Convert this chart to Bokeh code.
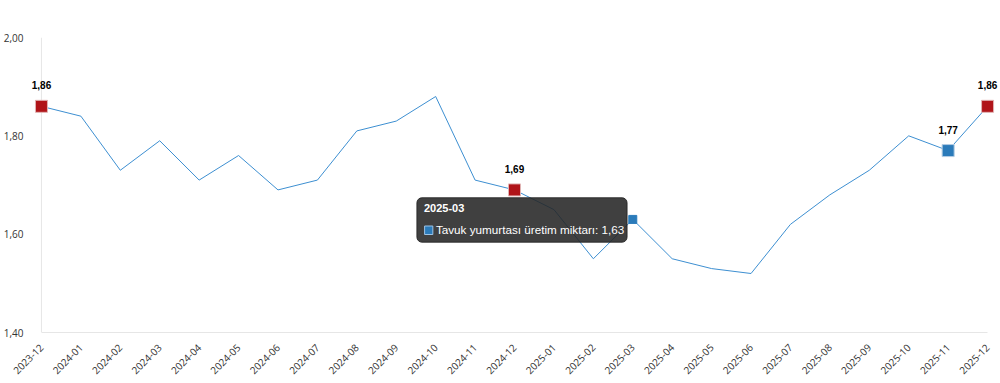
import math
from bokeh.plotting import figure
from bokeh.models import FixedTicker, BoxAnnotation, Label, Span
from bokeh.core.properties import value
from bokeh.embed import file_html
from bokeh.resources import INLINE

months = ["2023-12", "2024-01", "2024-02", "2024-03", "2024-04", "2024-05", "2024-06",
          "2024-07", "2024-08", "2024-09", "2024-10", "2024-11", "2024-12", "2025-01",
          "2025-02", "2025-03", "2025-04", "2025-05", "2025-06", "2025-07", "2025-08",
          "2025-09", "2025-10", "2025-11", "2025-12"]
values = [1.86, 1.84, 1.73, 1.79, 1.71, 1.76, 1.69, 1.71, 1.81, 1.83, 1.88, 1.71, 1.69,
          1.65, 1.55, 1.63, 1.55, 1.53, 1.52, 1.62, 1.68, 1.73, 1.80, 1.77, 1.86]
red_points = ["2023-12", "2024-12", "2025-12"]
blue_points = ["2025-11"]
hover_point = "2025-03"
y_ticks = [1.40, 1.60, 1.80, 2.00]
series_name = "Tavuk yumurtası üretim miktarı"

LINE = "#3d8fd1"
RED = "#b01419"
BLUE = "#2b7bba"
AXIS = "#e6e6e6"

def fmt(v):
    return f"{v:.2f}".replace(".", ",")

xs = list(range(len(months)))
n = len(months) - 1
p = figure(width=1000, height=383, output_backend="svg", toolbar_location=None,
           x_range=(-0.278, n + 0.328), y_range=(1.40, 2.00),
           min_border_left=26, min_border_right=0, min_border_top=37, min_border_bottom=51)
p.outline_line_color = None
p.xgrid.visible = False
p.ygrid.visible = False

p.line(xs, values, line_color=LINE, line_width=1)

def idx(m):
    return months.index(m)

rx = [idx(m) for m in red_points]
p.scatter(rx, [values[i] for i in rx], marker="square", size=12, fill_color=RED,
          line_color="#e0b3b3", line_width=1)
bx = [idx(m) for m in blue_points]
p.scatter(bx, [values[i] for i in bx], marker="square", size=12, fill_color=BLUE,
          line_color="#b3cde3", line_width=1)
hx = idx(hover_point)
p.scatter([hx], [values[hx]], marker="square", size=8, fill_color=BLUE, line_color=BLUE)

# data labels
for i in rx + bx:
    p.add_layout(Label(x=i, y=values[i], y_offset=17, text=fmt(values[i]),
                       text_align="center", text_baseline="bottom",
                       text_font="Liberation Sans", text_font_style="bold",
                       text_font_size="10px", text_color="#000000", level="overlay"))

for ax in (p.xaxis[0], p.yaxis[0]):
    ax.major_tick_line_color = None
    ax.minor_tick_line_color = None
    ax.major_label_text_font = "Open Sans"
    ax.major_label_text_font_size = "10px"
    ax.major_label_text_color = "#333333"

p.yaxis.axis_line_color = None
p.yaxis.ticker = FixedTicker(ticks=y_ticks)
p.yaxis.major_label_overrides = {t: fmt(t) for t in y_ticks}
p.yaxis.major_label_standoff = 1
p.add_layout(Span(location=0, dimension="height", line_color=AXIS, line_width=1,
                  level="underlay"))

p.xaxis.axis_line_color = AXIS
p.xaxis.bounds = (0, n)
p.xaxis.ticker = FixedTicker(ticks=xs)
p.xaxis.major_label_overrides = {i: m for i, m in enumerate(months)}
p.xaxis.major_label_orientation = math.pi / 4
p.xaxis.major_label_standoff = 7

# tooltip
tl, tr, tt, tb = 9.524, 14.855, 1.674, 1.5837
p.add_layout(BoxAnnotation(left=tl, right=tr, top=tt, bottom=tb,
                           fill_color="#262626", fill_alpha=0.88, line_color="#262626",
                           line_alpha=0.88, border_radius=5, level="overlay"))
p.add_layout(Label(x=tl, y=tt, x_offset=7, y_offset=-6, text=hover_point,
                   text_color="white", text_font="Liberation Sans", text_font_style="bold",
                   text_font_size="11px", text_baseline="top", level="overlay"))
p.add_layout(BoxAnnotation(left=9.719, right=9.928, top=1.6166, bottom=1.5993,
                           fill_color=BLUE, fill_alpha=1, line_color="#9cc3e6",
                           line_alpha=1, level="overlay"))
p.add_layout(Label(x=tl, y=tt, x_offset=19, y_offset=-32,
                   text=f"{series_name}: {fmt(values[hx])}",
                   text_color="white", text_font="Liberation Sans",
                   text_font_size="11.7px", text_baseline="middle", level="overlay"))

open("out.html", "w").write(file_html(p, INLINE))
